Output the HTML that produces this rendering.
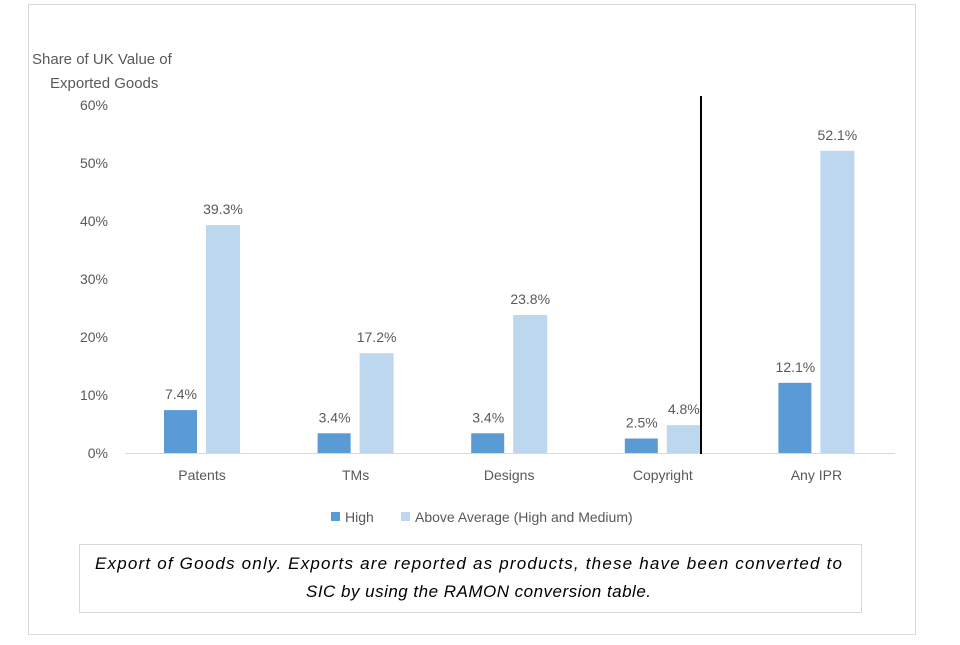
<!DOCTYPE html>
<html><head><meta charset="utf-8"><style>
body{margin:0;background:#fff;font-family:"Liberation Sans",Arial,sans-serif;}
svg text{font-family:"Liberation Sans",Arial,sans-serif;fill:#595959;font-size:14px;}
</style></head><body>
<svg width="960" height="640">
<rect x="28.5" y="4.5" width="887" height="630" fill="#fff" stroke="#d9d9d9"/>
<text x="32" y="64" style="font-size:15px">Share of UK Value of</text>
<text x="50" y="88" style="font-size:15px">Exported Goods</text>
<g id="axes"></g>
<g id="bars"></g>
<line x1="701" y1="96" x2="701" y2="454" stroke="#000" stroke-width="2"/>
<rect x="331" y="512" width="9" height="9" fill="#5b9bd5"/>
<text x="345" y="522">High</text>
<rect x="401" y="512" width="9" height="9" fill="#bdd7ee"/>
<text x="415" y="522">Above Average (High and Medium)</text>
<rect x="79.5" y="544.5" width="782" height="68" fill="#fff" stroke="#d9d9d9"/>
<text x="95" y="569" textLength="747" lengthAdjust="spacing" style="font-size:17px;font-style:italic;fill:#000">Export of Goods only. Exports are reported as products, these have been converted to</text>
<text x="306" y="597" textLength="345" lengthAdjust="spacing" style="font-size:17px;font-style:italic;fill:#000">SIC by using the RAMON conversion table.</text>
</svg>
<script>
const categories=["Patents","TMs","Designs","Copyright","Any IPR"];
const highValues=[7.4,3.4,3.4,2.5,12.1];
const aboveValues=[39.3,17.2,23.8,4.8,52.1];
const yTicks=[0,10,20,30,40,50,60];
const NS="http://www.w3.org/2000/svg";
const y=v=>453-v*5.8;
const xc=i=>202+i*153.6;
function mk(tag,attrs,parent,txt){const e=document.createElementNS(NS,tag);for(const k in attrs)e.setAttribute(k,attrs[k]);if(txt!==undefined)e.textContent=txt;parent.appendChild(e);return e;}
const axes=document.getElementById('axes'),bars=document.getElementById('bars');
yTicks.forEach(v=>{const t=mk('text',{x:108,y:y(v)+5,'text-anchor':'end'},axes,v+'%');

});
const base=mk('line',{x1:125,y1:453.5,x2:895,y2:453.5,stroke:'#d9d9d9'},axes);


categories.forEach((c,i)=>{
const cx=xc(i);
const h=mk('rect',{x:cx-38,y:y(highValues[i]),width:33,height:453-y(highValues[i]),fill:'#5b9bd5'},bars);


const a=mk('rect',{x:cx+4,y:y(aboveValues[i]),width:34,height:453-y(aboveValues[i]),fill:'#bdd7ee'},bars);


const l1=mk('text',{x:cx-21,y:y(highValues[i])-11,'text-anchor':'middle'},bars,highValues[i].toFixed(1)+'%');


const l2=mk('text',{x:cx+21,y:y(aboveValues[i])-11,'text-anchor':'middle'},bars,aboveValues[i].toFixed(1)+'%');


const xl=mk('text',{x:cx,y:480,'text-anchor':'middle'},axes,c);


});
</script>
</body></html>
